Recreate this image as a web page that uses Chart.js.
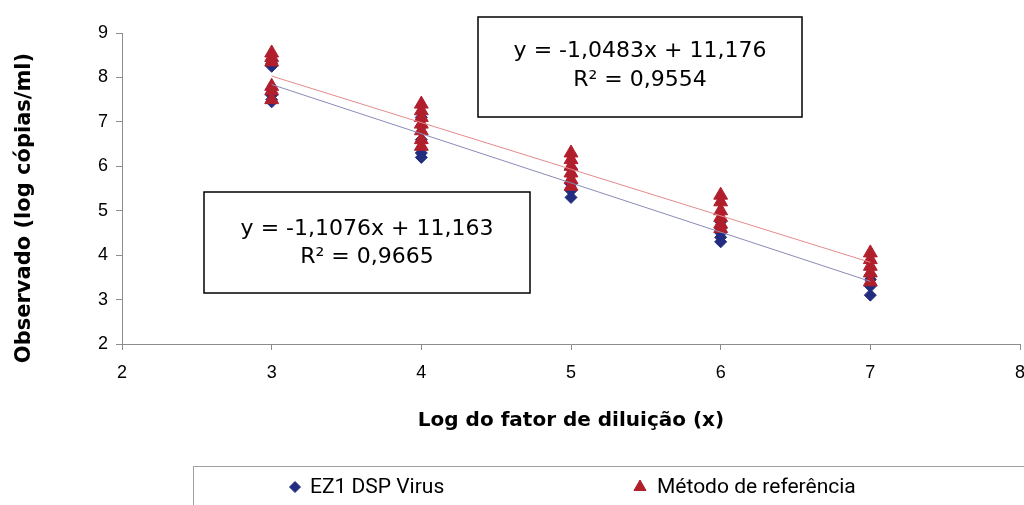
<!DOCTYPE html>
<html>
<head>
<meta charset="utf-8">
<script src="https://cdn.jsdelivr.net/npm/chart.js@4.4.1/dist/chart.umd.min.js"></script>
<style>
  html, body { margin: 0; padding: 0; background: #fff; }
  #wrap { width: 1024px; height: 505px; position: relative; }
</style>
</head>
<body>
<div id="wrap"><canvas id="c" width="1024" height="505"></canvas></div>
<script>
// Log dilution factors tested
const dilutionLogs = [3, 4, 5, 6, 7];

// Observed log copies/ml per dilution, EZ1 DSP Virus
const ezValues = [
  [8.32, 8.25, 7.60, 7.50, 7.45],
  [7.10, 6.90, 6.60, 6.30, 6.20],
  [5.95, 5.80, 5.60, 5.45, 5.30],
  [4.75, 4.60, 4.50, 4.40, 4.30],
  [3.55, 3.45, 3.30, 3.10]
];

// Observed log copies/ml per dilution, reference method
const refValues = [
  [8.55, 8.45, 8.35, 7.80, 7.70, 7.50],
  [7.40, 7.25, 7.10, 6.95, 6.80, 6.60, 6.45],
  [6.30, 6.15, 6.00, 5.85, 5.70, 5.55],
  [5.35, 5.20, 5.00, 4.85, 4.70, 4.60],
  [4.05, 3.90, 3.75, 3.60, 3.40]
];

// Linear fits: [slope, intercept, R²]
const ezFit = [-1.1076, 11.163, 0.9665];
const refFit = [-1.0483, 11.176, 0.9554];

const seriesNames = ['EZ1 DSP Virus', 'Método de referência'];
const xTitle = 'Log do fator de diluição (x)';
const yTitle = 'Observado (log cópias/ml)';
const xTicks = [2, 3, 4, 5, 6, 7, 8];
const yTicks = [2, 3, 4, 5, 6, 7, 8, 9];

const BLUE = '#232d7f';
const RED = '#b11f2c';

function toPoints(values) {
  const pts = [];
  values.forEach((group, i) => group.forEach(v => pts.push({ x: dilutionLogs[i], y: v })));
  return pts;
}
function fitLine(fit) {
  const x0 = dilutionLogs[0], x1 = dilutionLogs[dilutionLogs.length - 1];
  return [{ x: x0, y: fit[0] * x0 + fit[1] }, { x: x1, y: fit[0] * x1 + fit[1] }];
}
const fmt = (v, d) => v.toFixed(d).replace('.', ',');
function eqText(fit) {
  const sign = fit[1] < 0 ? '-' : '+';
  return ['y = ' + fmt(fit[0], 4) + 'x ' + sign + ' ' + fmt(Math.abs(fit[1]), 3),
          'R² = ' + fmt(fit[2], 4)];
}

// Vertical axis title, set a little below the plot's middle
const yTitlePlugin = {
  id: 'yTitlePlugin',
  afterDraw(chart) {
    const ctx = chart.ctx;
    ctx.save();
    ctx.translate(25, 208);
    ctx.rotate(-Math.PI / 2);
    ctx.fillStyle = '#000';
    ctx.font = 'bold 21px "DejaVu Sans", sans-serif';
    ctx.textAlign = 'center';
    ctx.textBaseline = 'middle';
    ctx.fillText(yTitle, 0, 0);
    ctx.restore();
  }
};

// Equation boxes drawn over the plot
const eqBoxes = {
  id: 'eqBoxes',
  afterDraw(chart) {
    const ctx = chart.ctx;
    const boxes = [
      { fit: refFit, x: 478, y: 17, w: 324, h: 100, l1: 51, l2: 80 },
      { fit: ezFit, x: 204, y: 192, w: 326, h: 101, l1: 229, l2: 257 }
    ];
    ctx.save();
    boxes.forEach(b => {
      ctx.fillStyle = '#fff';
      ctx.fillRect(b.x, b.y, b.w, b.h);
      ctx.strokeStyle = '#000';
      ctx.lineWidth = 1.5;
      ctx.strokeRect(b.x, b.y, b.w, b.h);
      const t = eqText(b.fit);
      ctx.fillStyle = '#000';
      ctx.font = '22px "DejaVu Sans", sans-serif';
      ctx.textAlign = 'center';
      ctx.textBaseline = 'middle';
      const cx = b.x + b.w / 2;
      ctx.fillText(t[0], cx, b.l1);
      ctx.fillText(t[1], cx, b.l2);
    });
    ctx.restore();
  }
};

// Boxed legend below the axis
const boxLegend = {
  id: 'boxLegend',
  afterDraw(chart) {
    const ctx = chart.ctx;
    ctx.save();
    ctx.strokeStyle = '#a0a0a0';
    ctx.lineWidth = 1;
    ctx.strokeRect(193.5, 466.5, 900, 80);
    const items = [
      { ds: chart.data.datasets[1], mx: 295, tx: 310 },
      { ds: chart.data.datasets[0], mx: 640, tx: 657 }
    ];
    items.forEach(it => {
      ctx.fillStyle = it.ds.pointBackgroundColor;
      ctx.strokeStyle = it.ds.pointBorderColor;
      Chart.helpers.drawPoint(ctx, {
        pointStyle: it.ds.pointStyle,
        radius: it.ds.pointStyle === 'triangle' ? 7 : 5.5,
        rotation: 0,
        borderWidth: 1
      }, it.mx, 487);
      ctx.fillStyle = '#000';
      ctx.font = '21px Roboto, sans-serif';
      ctx.textAlign = 'left';
      ctx.textBaseline = 'middle';
      ctx.fillText(it.ds.label, it.tx, 488);
    });
    ctx.restore();
  }
};

new Chart(document.getElementById('c'), {
  type: 'scatter',
  data: {
    datasets: [
      {
        label: seriesNames[1],
        data: toPoints(refValues),
        pointStyle: 'triangle',
        pointRadius: 8,
        pointHoverRadius: 8,
        pointBackgroundColor: RED,
        pointBorderColor: RED,
        pointBorderWidth: 1,
        order: 2
      },
      {
        label: seriesNames[0],
        data: toPoints(ezValues),
        pointStyle: 'rectRot',
        pointRadius: 6,
        pointHoverRadius: 6,
        pointBackgroundColor: BLUE,
        pointBorderColor: BLUE,
        pointBorderWidth: 1,
        order: 3
      },
      {
        label: 'refFit',
        type: 'line',
        data: fitLine(refFit),
        borderColor: '#e58a8a',
        borderWidth: 1,
        pointRadius: 0,
        fill: false,
        order: 0
      },
      {
        label: 'ezFit',
        type: 'line',
        data: fitLine(ezFit),
        borderColor: '#8a8ab8',
        borderWidth: 1,
        pointRadius: 0,
        fill: false,
        order: 1
      }
    ]
  },
  options: {
    responsive: false,
    animation: false,
    events: [],
    layout: { autoPadding: false, padding: { top: 33, right: 4, bottom: 61, left: 0 } },
    plugins: { legend: { display: false }, tooltip: { enabled: false } },
    scales: {
      x: {
        type: 'linear',
        min: xTicks[0],
        max: xTicks[xTicks.length - 1],
        afterBuildTicks: s => { s.ticks = xTicks.map(v => ({ value: v })); },
        afterFit: s => { s.height = 100; s.paddingRight = 0; s.paddingLeft = 0; },
        border: { color: '#8c8c8c', width: 1 },
        grid: { drawOnChartArea: false, drawTicks: true, tickLength: 6, color: '#8c8c8c' },
        ticks: { color: '#000', padding: 12, font: { family: '"Liberation Sans", Arial, sans-serif', size: 18 } },
        title: {
          display: true,
          text: xTitle,
          color: '#000',
          padding: { top: 0, bottom: 11 },
          font: { family: '"DejaVu Sans", sans-serif', size: 20, weight: 'bold' }
        }
      },
      y: {
        type: 'linear',
        min: yTicks[0],
        max: yTicks[yTicks.length - 1],
        afterBuildTicks: s => { s.ticks = yTicks.map(v => ({ value: v })); },
        afterFit: s => { s.width = 122; },
        border: { color: '#8c8c8c', width: 1 },
        grid: { drawOnChartArea: false, drawTicks: true, tickLength: 6, color: '#8c8c8c' },
        ticks: { color: '#000', padding: 8, font: { family: '"Liberation Sans", Arial, sans-serif', size: 18 } }
      }
    }
  },
  plugins: [yTitlePlugin, eqBoxes, boxLegend]
});
</script>
</body>
</html>
